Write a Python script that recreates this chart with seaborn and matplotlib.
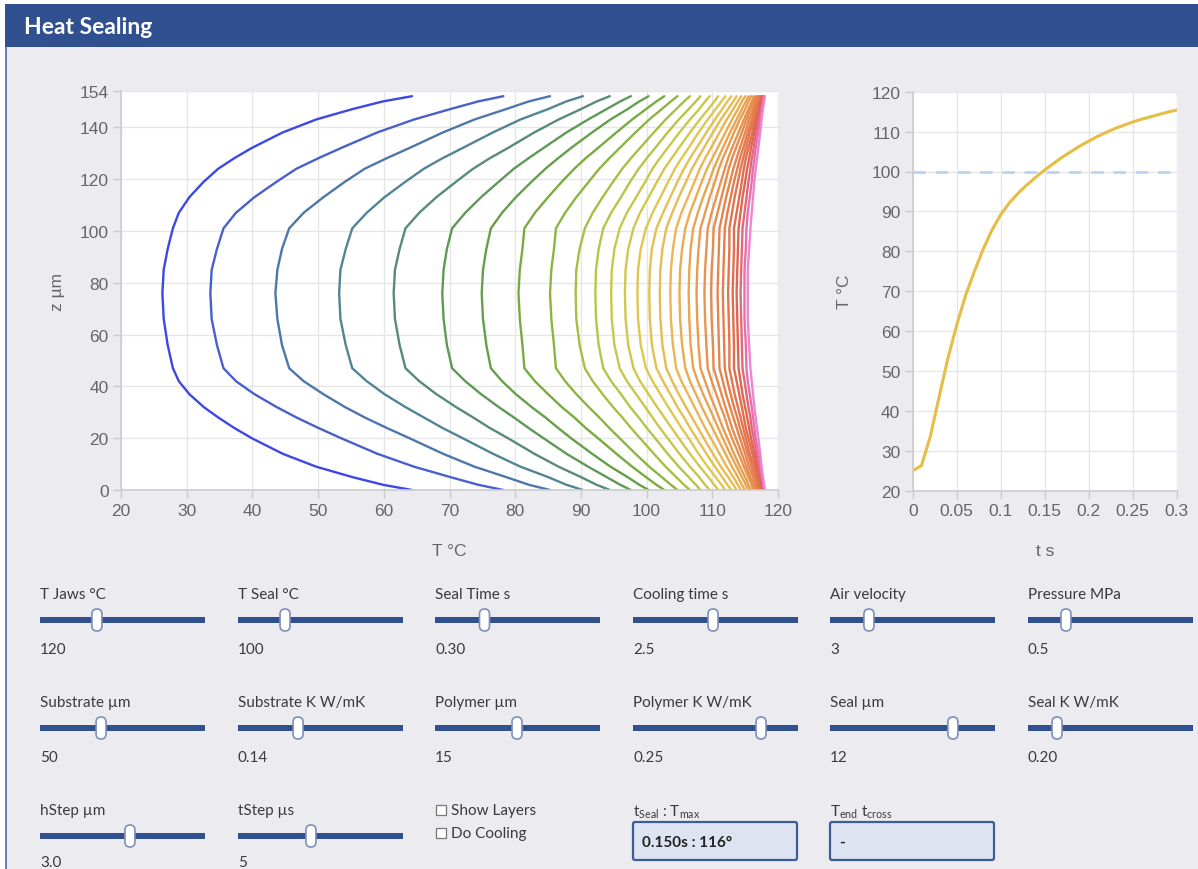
import matplotlib
matplotlib.use("Agg")
import matplotlib.pyplot as plt
from matplotlib.colors import LinearSegmentedColormap
from matplotlib.patches import Rectangle, FancyBboxPatch
import pandas as pd
import seaborn as sns

# ---------------------------------------------------------------- data
# simulation snapshots (s)
times = [0.01, 0.02, 0.03, 0.04, 0.05, 0.06, 0.07, 0.08, 0.09, 0.10,
         0.11, 0.12, 0.13, 0.14, 0.15, 0.16, 0.17, 0.18, 0.19, 0.20,
         0.21, 0.22, 0.23, 0.24, 0.25, 0.26, 0.27, 0.28, 0.29, 0.30]

# depth of each sample in the lower half of the stack and its mirror in the upper half (µm)
z_lower = [0, 2, 5, 9, 14, 20, 24, 28, 32, 37, 42, 47, 56, 66, 76]
z_upper = [152, 150, 147, 143, 138, 132, 128, 124, 119, 113, 107, 101, 93, 85, 76]

# temperature (°C) at each depth, one value per snapshot
T_z00 = [64.3, 78.2, 85.3, 90.3, 94.4, 97.6, 100.3, 102.7, 104.7, 106.6, 108.2, 109.6, 110.9, 112.0, 112.9,
         113.7, 114.4, 115.0, 115.5, 115.9, 116.3, 116.6, 116.9, 117.1, 117.3, 117.5, 117.6, 117.8, 117.9, 118.0]
T_z02 = [59.9, 74.4, 82.1, 87.8, 92.4, 96.0, 98.9, 101.5, 103.7, 105.7, 107.5, 108.9, 110.3, 111.4, 112.3,
         113.2, 113.9, 114.5, 115.1, 115.5, 116.0, 116.3, 116.6, 116.8, 117.1, 117.3, 117.4, 117.6, 117.8, 117.9]
T_z05 = [55.2, 70.1, 78.6, 85.0, 90.0, 93.9, 97.1, 99.9, 102.3, 104.5, 106.4, 108.0, 109.4, 110.5, 111.5,
         112.4, 113.2, 113.9, 114.5, 115.0, 115.5, 115.8, 116.2, 116.5, 116.7, 117.0, 117.2, 117.4, 117.6, 117.7]
T_z09 = [49.7, 64.6, 73.8, 80.8, 86.6, 91.1, 94.5, 97.8, 100.4, 102.9, 104.9, 106.6, 108.1, 109.3, 110.4,
         111.3, 112.2, 113.0, 113.7, 114.2, 114.8, 115.2, 115.6, 116.0, 116.3, 116.6, 116.8, 117.1, 117.3, 117.5]
T_z14 = [44.6, 59.0, 69.0, 76.6, 82.9, 87.8, 91.7, 95.4, 98.3, 101.1, 103.2, 105.0, 106.6, 107.9, 109.1,
         110.1, 111.1, 112.0, 112.7, 113.3, 114.0, 114.5, 115.0, 115.4, 115.7, 116.1, 116.4, 116.7, 117.0, 117.3]
T_z20 = [39.9, 53.5, 63.9, 72.0, 78.9, 84.3, 88.5, 92.6, 95.9, 99.0, 101.3, 103.2, 104.9, 106.4, 107.6,
         108.7, 109.8, 110.8, 111.6, 112.3, 113.0, 113.6, 114.2, 114.7, 115.1, 115.5, 115.9, 116.3, 116.6, 117.0]
T_z24 = [37.2, 50.0, 60.4, 68.9, 76.1, 82.0, 86.5, 90.7, 94.3, 97.6, 100.0, 102.0, 103.8, 105.3, 106.6,
         107.8, 108.9, 110.0, 110.9, 111.6, 112.4, 113.0, 113.7, 114.2, 114.7, 115.1, 115.6, 116.0, 116.4, 116.8]
T_z28 = [34.8, 46.7, 57.1, 66.1, 73.6, 79.8, 84.6, 89.0, 92.8, 96.3, 98.8, 100.9, 102.7, 104.3, 105.7,
         106.9, 108.1, 109.2, 110.2, 111.0, 111.9, 112.5, 113.2, 113.8, 114.3, 114.8, 115.3, 115.8, 116.2, 116.6]
T_z32 = [32.6, 43.7, 54.1, 63.3, 71.0, 77.5, 82.5, 87.1, 91.2, 94.9, 97.5, 99.8, 101.6, 103.3, 104.7,
         106.0, 107.3, 108.4, 109.5, 110.4, 111.3, 112.0, 112.7, 113.3, 113.9, 114.5, 115.0, 115.5, 116.0, 116.4]
T_z37 = [30.4, 40.3, 50.8, 60.1, 68.0, 74.8, 80.1, 85.0, 89.3, 93.3, 96.1, 98.4, 100.3, 102.1, 103.6,
         104.9, 106.3, 107.5, 108.6, 109.6, 110.6, 111.4, 112.1, 112.8, 113.4, 114.1, 114.6, 115.2, 115.7, 116.2]
T_z42 = [28.8, 37.5, 47.8, 57.4, 65.4, 72.4, 78.0, 83.0, 87.6, 91.8, 94.6, 97.0, 99.0, 100.9, 102.5,
         103.9, 105.3, 106.6, 107.8, 108.9, 109.9, 110.8, 111.6, 112.3, 113.0, 113.7, 114.3, 114.9, 115.4, 116.0]
T_z47 = [27.9, 35.6, 45.6, 55.2, 63.3, 70.4, 76.3, 81.4, 86.2, 90.6, 93.4, 95.9, 98.0, 99.9, 101.5,
         103.0, 104.5, 105.9, 107.1, 108.2, 109.3, 110.2, 111.1, 111.9, 112.6, 113.3, 114.0, 114.6, 115.2, 115.8]
T_z56 = [27.1, 34.6, 44.5, 54.2, 62.4, 69.6, 75.6, 81.1, 85.9, 89.8, 92.7, 95.1, 97.2, 99.1, 100.8,
         102.4, 104.0, 105.4, 106.7, 107.9, 109.1, 110.1, 111.0, 111.8, 112.6, 113.3, 113.9, 114.5, 115.1, 115.6]
T_z66 = [26.5, 33.8, 43.8, 53.4, 61.7, 69.1, 75.1, 80.7, 85.5, 89.3, 92.3, 94.7, 96.8, 98.7, 100.5,
         102.1, 103.7, 105.1, 106.5, 107.7, 108.9, 109.9, 110.9, 111.7, 112.5, 113.2, 113.8, 114.4, 114.9, 115.4]
T_z76 = [26.3, 33.6, 43.5, 53.2, 61.5, 68.9, 74.9, 80.5, 85.3, 89.2, 92.2, 94.6, 96.7, 98.6, 100.4,
         102.0, 103.6, 105.0, 106.4, 107.6, 108.8, 109.8, 110.8, 111.6, 112.4, 113.1, 113.7, 114.3, 114.9, 115.4]

T_initial = 25.0
T_seal = 100

# control panel
slider_labels = ["T Jaws °C", "T Seal °C", "Seal Time s", "Cooling time s", "Air velocity", "Pressure MPa",
                 "Substrate µm", "Substrate K W/mK", "Polymer µm", "Polymer K W/mK", "Seal µm", "Seal K W/mK",
                 "hStep µm", "tStep µs"]
slider_values = ["120", "100", "0.30", "2.5", "3", "0.5",
                 "50", "0.14", "15", "0.25", "12", "0.20",
                 "3.0", "5"]
thumb_frac = [0.345, 0.285, 0.30, 0.485, 0.236, 0.23,
              0.37, 0.364, 0.497, 0.776, 0.745, 0.176,
              0.545, 0.442]
checkbox_labels = ["Show Layers", "Do Cooling"]
result_seal = "0.150s : 116°"
result_end = "-"

# ---------------------------------------------------------------- tidy table
depth_cols = [T_z00, T_z02, T_z05, T_z09, T_z14, T_z20, T_z24, T_z28, T_z32, T_z37,
              T_z42, T_z47, T_z56, T_z66, T_z76]
records = []
for i, t in enumerate(times):
    temps = [col[i] for col in depth_cols]
    path = list(zip(z_lower, temps)) + list(zip(z_upper[::-1][1:], temps[::-1][1:]))
    for k, (z, T) in enumerate(path):
        records.append({"t": t, "z": z, "T": T, "k": k})
profiles = pd.DataFrame(records)
history = pd.DataFrame({"t": [0.0] + times, "T": [T_initial] + T_z76})

# ---------------------------------------------------------------- style
W, H = 1198, 870
sns.set_theme(style="white")
plt.rcParams["font.family"] = ["Liberation Sans", "DejaVu Sans"]
plt.rcParams["mathtext.default"] = "regular"

fig = plt.figure(figsize=(W / 100, H / 100), dpi=100)
fig.patch.set_facecolor("white")

ui = fig.add_axes([0, 0, 1, 1], zorder=0)
ui.set_xlim(0, W)
ui.set_ylim(H, 0)
ui.axis("off")

panel_bg = "#ebebf0"
navy = "#30508f"
ui.add_patch(Rectangle((5, 5), W, H, facecolor=panel_bg, edgecolor="none"))
ui.add_patch(Rectangle((5, 5), 2, H, facecolor="#6f80b0", edgecolor="none"))
ui.add_patch(Rectangle((5, 5), W, 43, facecolor=navy, edgecolor="none"))
ui.text(24, 27, "Heat Sealing", color="white", fontsize=16.5, fontweight="bold",
        family=["Lato", "DejaVu Sans"], va="center", ha="left")


def px_axes(x0, y0, x1, y1):
    return fig.add_axes([x0 / W, 1 - y1 / H, (x1 - x0) / W, (y1 - y0) / H], zorder=2)


tick_grey = "#666666"
grid_grey = "#e6e6e6"
spine_grey = "#cccccc"


def style_axes(ax):
    ax.set_facecolor("white")
    ax.grid(True, color=grid_grey, lw=1.0)
    for s in ("top", "right"):
        ax.spines[s].set_visible(False)
    for s in ("left", "bottom"):
        ax.spines[s].set_color(spine_grey)
        ax.spines[s].set_linewidth(1.2)
    ax.tick_params(axis="both", which="both", direction="out", length=6, width=1,
                   color=spine_grey, labelcolor=tick_grey, labelsize=12.5, pad=3,
                   left=True, bottom=True)


# profile colours, early (cool) to late (hot)
profile_cmap = LinearSegmentedColormap.from_list("heat_profile", [
    (0.00, "#3c48e6"), (0.035, "#4a62c8"), (0.07, "#4d78a8"), (0.10, "#518496"),
    (0.14, "#588a78"), (0.17, "#5f9758"), (0.21, "#66a045"), (0.24, "#78ab3e"),
    (0.28, "#90b63f"), (0.31, "#a5bf43"), (0.38, "#c6c84a"), (0.45, "#e0c64e"),
    (0.55, "#ecb652"), (0.66, "#e99a4e"), (0.79, "#e67e4e"), (0.90, "#e0654e"),
    (0.955, "#e2689a"), (1.00, "#ef84d4")])

# ---------------------------------------------------------------- left: profiles
ax1 = px_axes(121, 92, 778, 491)
sns.lineplot(data=profiles, x="T", y="z", hue="t", units="t", estimator=None, sort=False,
             palette=profile_cmap, hue_norm=(min(times), max(times)), legend=False,
             lw=1.7, ax=ax1)
ax1.set_xlim(20, 120)
ax1.set_ylim(0, 154)
ax1.set_xticks(range(20, 121, 10))
ax1.set_yticks([0, 20, 40, 60, 80, 100, 120, 140, 154])
style_axes(ax1)
ax1.set_xlabel("T °C", color=tick_grey, fontsize=12.5, labelpad=18)
ax1.set_ylabel("z µm", color=tick_grey, fontsize=12.5, labelpad=10)

# ---------------------------------------------------------------- right: seal history
ax2 = px_axes(912.7, 92.7, 1176.7, 491.7)
sns.lineplot(data=history, x="t", y="T", color="#e6bd45", lw=2.2, ax=ax2)
ax2.axhline(T_seal, color="#b9d5f3", lw=2, ls=(0, (4.5, 3.5)), zorder=1)
ax2.set_xlim(0, 0.3)
ax2.set_ylim(20, 120)
ax2.set_xticks([0, 0.05, 0.1, 0.15, 0.2, 0.25, 0.3])
ax2.set_xticklabels(["0", "0.05", "0.1", "0.15", "0.2", "0.25", "0.3"])
ax2.set_yticks(range(20, 121, 10))
style_axes(ax2)
ax2.set_xlabel("t s", color=tick_grey, fontsize=12.5, labelpad=18)
ax2.set_ylabel("T °C", color=tick_grey, fontsize=12.5, labelpad=14)

# ---------------------------------------------------------------- controls
ui_font = ["Lato", "DejaVu Sans"]
text_col = "#3b3b3b"
col_x = [40, 238, 435, 633, 830, 1028]
row_y = [595, 703, 811]
track_w = 165

for i, (lab, val, f) in enumerate(zip(slider_labels, slider_values, thumb_frac)):
    x0 = col_x[i % 6]
    y0 = row_y[i // 6]
    ui.text(x0, y0, lab, color=text_col, fontsize=11, family=ui_font, va="center", ha="left")
    ui.add_patch(Rectangle((x0, y0 + 23), track_w, 6, facecolor=navy, edgecolor="none"))
    cx = x0 + f * track_w
    ui.add_patch(FancyBboxPatch((cx - 5, y0 + 15), 10, 22,
                                boxstyle="round,pad=0,rounding_size=5",
                                facecolor="white", edgecolor="#7d8fb8", lw=1.2, zorder=3))
    vy = y0 + 55 if i < 12 else y0 + 52
    ui.text(x0, vy, val, color=text_col, fontsize=11, family=ui_font, va="center", ha="left")

for j, lab in enumerate(checkbox_labels):
    y = 811 + 23 * j
    ui.add_patch(Rectangle((436, y - 5), 10, 10, facecolor="white", edgecolor="#777777", lw=0.9))
    ui.text(451, y, lab, color=text_col, fontsize=11, family=ui_font, va="center", ha="left")

for x0, lab, val in [(633, r"$t_{Seal}$ : $T_{max}$", result_seal),
                     (830, r"$T_{end}$ $t_{cross}$", result_end)]:
    ui.text(x0, 812, lab, color=text_col, fontsize=11, family=ui_font, va="center", ha="left")
    ui.add_patch(FancyBboxPatch((x0, 823), 164, 38, boxstyle="round,pad=0,rounding_size=2",
                                facecolor="#dde3f0", edgecolor="#3d5c9a", lw=1.6))
    ui.text(x0 + 9, 843, val, color="#222222", fontsize=11, fontweight="bold",
            family=ui_font, va="center", ha="left")

fig.savefig("out.png", dpi=100, facecolor=fig.get_facecolor())
